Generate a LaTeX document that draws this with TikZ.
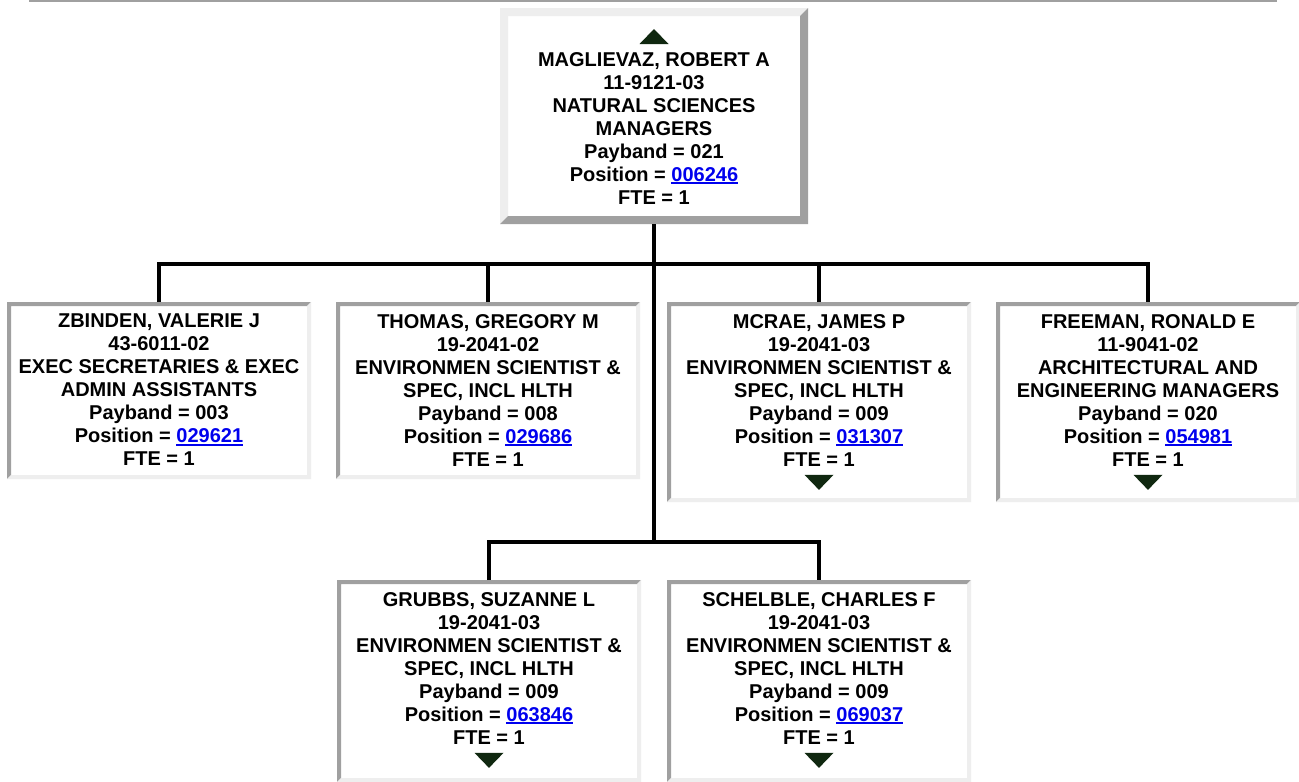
\documentclass[tikz,border=0pt]{standalone}
\usepackage{fontspec}
\setmainfont{Liberation Sans}
\usetikzlibrary{calc}
\definecolor{dkb}{HTML}{A0A0A0}
\definecolor{ltb}{HTML}{EEEEEE}
\definecolor{tricol}{RGB}{16,40,16}
\definecolor{lnkc}{RGB}{0,0,238}
\newcommand{\lnk}[1]{{\color{lnkc}\setbox0=\hbox{#1}\rlap{\rule[-2.6pt]{\wd0}{1.8pt}}\box0}}
% #1 node, #2 border width, #3 top-left colour, #4 bottom-right colour
\newcommand{\bevelframe}[4]{%
  \fill[#3] (#1.south west) -- (#1.north west) -- (#1.north east)
    -- ([xshift=-#2,yshift=-#2]#1.north east) -- ([xshift=#2,yshift=-#2]#1.north west)
    -- ([xshift=#2,yshift=#2]#1.south west) -- cycle;
  \fill[#4] (#1.south west) -- (#1.south east) -- (#1.north east)
    -- ([xshift=-#2,yshift=-#2]#1.north east) -- ([xshift=-#2,yshift=#2]#1.south east)
    -- ([xshift=#2,yshift=#2]#1.south west) -- cycle;}
\newcommand{\downtri}[1]{\fill[tricol] ([xshift=-14.5pt,yshift=-8.5pt]#1.south) -- ([xshift=14.5pt,yshift=-8.5pt]#1.south) -- ([yshift=-23.5pt]#1.south) -- cycle;}
\newcommand{\uptri}[1]{\fill[tricol] ([xshift=-14.5pt,yshift=8pt]#1.north) -- ([xshift=14.5pt,yshift=8pt]#1.north) -- ([yshift=23pt]#1.north) -- cycle;}
\begin{document}
\begin{tikzpicture}[x=1pt,y=-1pt,
  box/.style={draw=none,fill=white,inner sep=0pt,outer sep=0pt},
  txt/.style={inner sep=0pt,align=center,anchor=north,font=\fontsize{20}{23}\selectfont\bfseries},
  conn/.style={draw=black,line width=3.5pt,line join=miter}]
\useasboundingbox[fill=white] (0,0) rectangle (1299,782);
\draw[dkb,line width=2pt] (29,1) -- (1277,1);

% boxes
\node[box,minimum width=308pt,minimum height=216pt] (top) at (654,116) {};
\node[box,minimum width=304pt,minimum height=177pt] (z) at (159,390.5) {};
\node[box,minimum width=304pt,minimum height=177pt] (t) at (488,390.5) {};
\node[box,minimum width=304pt,minimum height=200pt] (m) at (819,402) {};
\node[box,minimum width=304pt,minimum height=200pt] (f) at (1148,402) {};
\node[box,minimum width=304pt,minimum height=202pt] (g) at (489,681) {};
\node[box,minimum width=304pt,minimum height=202pt] (s) at (819,681) {};

\bevelframe{top}{8pt}{ltb}{dkb}
\bevelframe{z}{4pt}{dkb}{ltb}
\bevelframe{t}{4pt}{dkb}{ltb}
\bevelframe{m}{4pt}{dkb}{ltb}
\bevelframe{f}{4pt}{dkb}{ltb}
\bevelframe{g}{4pt}{dkb}{ltb}
\bevelframe{s}{4pt}{dkb}{ltb}

% texts
\node[txt] (topt) at ([yshift=-44pt]top.north) {MAGLIEVAZ, ROBERT A\\11-9121-03\\NATURAL SCIENCES\\MANAGERS\\Payband = 021\\Position = \lnk{006246}\\FTE = 1};
\node[txt] (zt) at ([yshift=-12pt]z.north) {ZBINDEN, VALERIE J\\43-6011-02\\EXEC SECRETARIES \& EXEC\\ADMIN ASSISTANTS\\Payband = 003\\Position = \lnk{029621}\\FTE = 1};
\node[txt] (tt) at ([yshift=-12pt]t.north) {THOMAS, GREGORY M\\19-2041-02\\ENVIRONMEN SCIENTIST \&\\SPEC, INCL HLTH\\Payband = 008\\Position = \lnk{029686}\\FTE = 1};
\node[txt] (mt) at ([yshift=-12pt]m.north) {MCRAE, JAMES P\\19-2041-03\\ENVIRONMEN SCIENTIST \&\\SPEC, INCL HLTH\\Payband = 009\\Position = \lnk{031307}\\FTE = 1};
\node[txt] (ft) at ([yshift=-12pt]f.north) {FREEMAN, RONALD E\\11-9041-02\\ARCHITECTURAL AND\\ENGINEERING MANAGERS\\Payband = 020\\Position = \lnk{054981}\\FTE = 1};
\node[txt] (gt) at ([yshift=-12pt]g.north) {GRUBBS, SUZANNE L\\19-2041-03\\ENVIRONMEN SCIENTIST \&\\SPEC, INCL HLTH\\Payband = 009\\Position = \lnk{063846}\\FTE = 1};
\node[txt] (st) at ([yshift=-12pt]s.north) {SCHELBLE, CHARLES F\\19-2041-03\\ENVIRONMEN SCIENTIST \&\\SPEC, INCL HLTH\\Payband = 009\\Position = \lnk{069037}\\FTE = 1};

\uptri{topt}
\downtri{mt}
\downtri{ft}
\downtri{gt}
\downtri{st}

% connectors
\coordinate (j1) at (654,264);
\coordinate (j2) at (654,542);
\draw[conn] (top.south) -- (j2);
\draw[conn] (z.north) |- (j1) -| (f.north);
\draw[conn] (t.north) -- (t.north |- j1);
\draw[conn] (m.north) -- (m.north |- j1);
\draw[conn] (g.north) |- (j2) -| (s.north);
\end{tikzpicture}
\end{document}
